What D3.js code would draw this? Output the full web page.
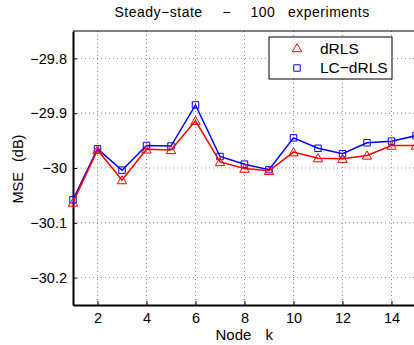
<!DOCTYPE html>
<html>
<head>
<meta charset="utf-8">
<script src="https://cdn.jsdelivr.net/npm/d3@7/dist/d3.min.js"></script>
<style>
  html, body { margin: 0; padding: 0; background: #fff; }
  svg { display: block; font-family: "Liberation Sans", Arial, sans-serif; }
</style>
</head>
<body>
<div id="chart"></div>
<script>
// --- data ---
const nodes = [1, 2, 3, 4, 5, 6, 7, 8, 9, 10, 11, 12, 13, 14, 15];
const dRLS = [-30.063, -29.967, -30.022, -29.966, -29.967, -29.914, -29.989, -30.001, -30.005,
              -29.971, -29.982, -29.983, -29.977, -29.959, -29.959];
const lcdRLS = [-30.058, -29.965, -30.004, -29.959, -29.960, -29.885, -29.979, -29.993, -30.003,
                -29.945, -29.964, -29.974, -29.954, -29.951, -29.941];
const xTicks = [2, 4, 6, 8, 10, 12, 14];
const yTicks = [-29.8, -29.9, -30.0, -30.1, -30.2];
const yTickLabels = ['\u221229.8', '\u221229.9', '\u221230', '\u221230.1', '\u221230.2'];
const legendNames = ['dRLS', 'LC\u2212dRLS'];

const width = 414, height = 345;
const margin = { top: 31, right: -2, bottom: 40, left: 73 };

const svg = d3.select('#chart').append('svg')
    .attr('width', width).attr('height', height);

const x = d3.scaleLinear().domain([1, 15]).range([margin.left, width - margin.right]);
const y = d3.scaleLinear().domain([-30.25, -29.75]).range([height - margin.bottom, margin.top]);

const plotBottom = height - margin.bottom;

// grid (dotted)
svg.append('g').selectAll('line').data(xTicks).join('line')
    .attr('x1', d => x(d)).attr('x2', d => x(d))
    .attr('y1', margin.top).attr('y2', plotBottom)
    .attr('stroke', '#8a8a8a').attr('stroke-width', 1).attr('stroke-dasharray', '1,3');
svg.append('g').selectAll('line').data(yTicks).join('line')
    .attr('x1', margin.left).attr('x2', width)
    .attr('y1', d => y(d)).attr('y2', d => y(d))
    .attr('stroke', '#8a8a8a').attr('stroke-width', 1).attr('stroke-dasharray', '1,3');

// axes
const xAxis = svg.append('g').attr('transform', `translate(0,${plotBottom})`)
    .call(d3.axisBottom(x).tickValues(xTicks).tickSizeInner(-4).tickSizeOuter(0).tickPadding(8));
const yAxis = svg.append('g').attr('transform', `translate(${margin.left},0)`)
    .call(d3.axisLeft(y).tickValues(yTicks).tickSizeInner(-4).tickSizeOuter(0).tickPadding(6)
        .tickFormat((d, i) => yTickLabels[i]));
[xAxis, yAxis].forEach(a => {
    a.select('.domain').attr('stroke', '#000').attr('stroke-width', 2);
    a.selectAll('.tick line').attr('stroke', '#000');
    a.selectAll('text').attr('fill', '#000').style('font-size', '14.5px')
        .style('font-family', '"Liberation Sans", Arial, sans-serif');
});
// top border
svg.append('line').attr('x1', margin.left).attr('x2', width)
    .attr('y1', margin.top).attr('y2', margin.top).attr('stroke', '#000').attr('stroke-width', 1);

// series
const line = d3.line().x((d, i) => x(nodes[i])).y(d => y(d));
const tri = d3.symbol().type(d3.symbolTriangle).size(38);
const sq = d3.symbol().type(d3.symbolSquare).size(42);

const series = [
    { vals: lcdRLS, color: '#0000ff', sym: sq, dy: 0 },
    { vals: dRLS, color: '#ff0000', sym: tri, dy: 1 }
];
series.forEach(s => {
    const g = svg.append('g');
    g.append('path').datum(s.vals)
        .attr('fill', 'none').attr('stroke', s.color).attr('stroke-width', 1.5)
        .attr('d', line);
    g.selectAll('path.m').data(s.vals).join('path').attr('class', 'm')
        .attr('transform', (d, i) => `translate(${x(nodes[i])},${y(d) + s.dy})`)
        .attr('d', s.sym).attr('fill', 'none').attr('stroke', s.color).attr('stroke-width', 1);
});

// legend
const lg = svg.append('g');
lg.append('rect').attr('x', 269).attr('y', 37).attr('width', 123).attr('height', 42)
    .attr('fill', '#fff').attr('stroke', '#000').attr('stroke-width', 1);
lg.append('path').attr('transform', 'translate(297,49)').attr('d', tri)
    .attr('fill', 'none').attr('stroke', '#ff0000');
lg.append('path').attr('transform', 'translate(297,68)').attr('d', sq)
    .attr('fill', 'none').attr('stroke', '#0000ff');
lg.selectAll('text').data(legendNames).join('text')
    .attr('x', 320).attr('y', (d, i) => 53.5 + i * 19.5)
    .style('font-size', '15.5px').text(d => d);

// title
const title = svg.append('text').attr('y', 16.7).style('font-size', '14px')
    .style('letter-spacing', '0.5px');
title.append('tspan').attr('x', 114.5).text('Steady\u2212state');
title.append('tspan').attr('x', 222.5).text('\u2212');
title.append('tspan').attr('x', 250.5).text('100');
title.append('tspan').attr('x', 288).text('experiments');

// x label
const xl = svg.append('text').attr('y', 340).style('font-size', '15px');
xl.append('tspan').attr('x', 215.5).text('Node');
xl.append('tspan').attr('x', 265.5).text('k');

// y label
const yl = svg.append('text').attr('transform', 'translate(23.3,0) rotate(-90)')
    .attr('y', 0).style('font-size', '14.5px');
yl.append('tspan').attr('x', -203.5).text('MSE');
yl.append('tspan').attr('x', -162).text('(dB)');
</script>
</body>
</html>
